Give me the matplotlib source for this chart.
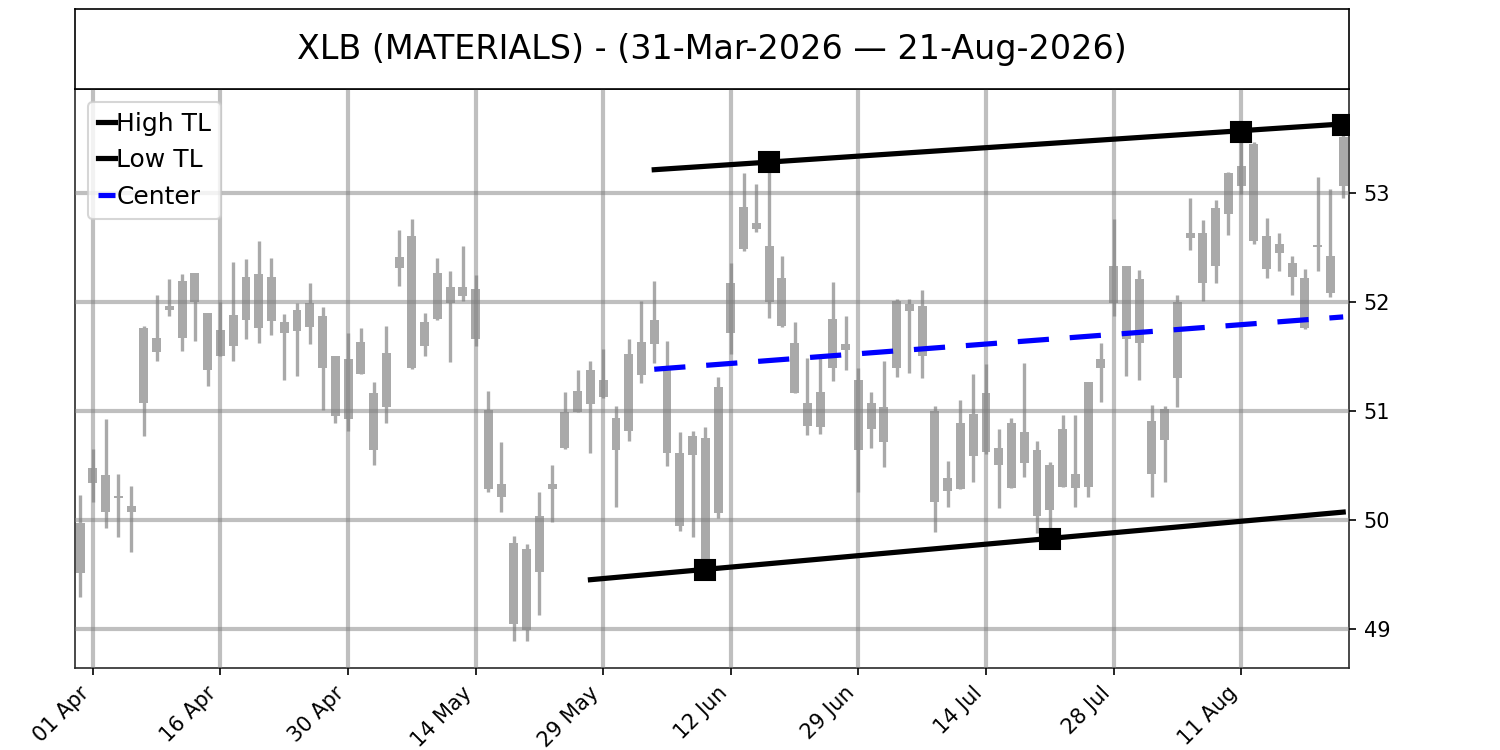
import numpy as np
import pandas as pd
import matplotlib
matplotlib.use("Agg")
import matplotlib.pyplot as plt

# === Data ===
title = "XLB (MATERIALS) - (31-Mar-2026 \u2014 21-Aug-2026)"
holidays = ["2026-04-03", "2026-05-25", "2026-06-19", "2026-07-03"]
dates = pd.bdate_range("2026-03-31", "2026-08-21")
dates = dates[~dates.isin(pd.to_datetime(holidays))]

opens = [49.51, 50.34, 50.41, 50.20, 50.13, 51.07, 51.67, 51.92, 51.67, 52.26,
         51.90, 51.50, 51.59, 51.83, 51.76, 52.23, 51.81, 51.73, 51.77, 51.87,
         51.50, 50.92, 51.34, 51.16, 51.03, 52.31, 52.60, 51.59, 51.84, 52.13,
         52.05, 52.12, 51.01, 50.33, 49.79, 48.99, 49.52, 50.28, 50.66, 50.99,
         51.06, 51.28, 50.93, 50.81, 51.33, 51.61, 51.39, 50.61, 50.59, 50.75,
         50.06, 51.71, 52.48, 52.72, 52.51, 52.22, 51.62, 51.07, 50.85, 51.39,
         51.61, 51.28, 50.83, 51.03, 51.39, 51.98, 51.96, 51.00, 50.26, 50.28,
         50.58, 51.16, 50.66, 50.29, 50.80, 50.64, 50.09, 50.30, 50.42, 50.30,
         51.39, 51.99, 52.33, 51.62, 50.91, 50.73, 51.30, 52.58, 52.17, 52.33,
         52.80, 53.06, 53.45, 52.60, 52.45, 52.35, 52.22, 52.50, 52.08, 53.06]
highs = [50.23, 50.65, 50.92, 50.42, 50.31, 51.78, 52.06, 52.21, 52.25, 52.26,
         51.90, 52.00, 52.36, 52.39, 52.56, 52.40, 51.89, 51.99, 52.17, 51.95,
         51.50, 51.71, 51.76, 51.26, 51.78, 52.66, 52.76, 51.90, 52.40, 52.28,
         52.51, 52.24, 51.18, 50.71, 49.85, 49.78, 50.25, 50.50, 51.17, 51.37,
         51.46, 51.57, 51.04, 51.66, 52.01, 52.19, 51.64, 50.80, 50.81, 50.85,
         51.31, 52.35, 53.18, 53.08, 53.28, 52.42, 51.81, 51.48, 51.51, 52.18,
         51.87, 51.39, 51.17, 51.46, 52.02, 52.02, 52.11, 51.04, 50.54, 51.10,
         51.34, 51.43, 50.83, 50.93, 51.44, 50.72, 50.53, 50.96, 50.96, 51.26,
         51.62, 52.76, 52.33, 52.29, 51.05, 51.04, 52.06, 52.95, 52.75, 52.93,
         53.19, 53.56, 53.46, 52.77, 52.63, 52.42, 52.30, 53.14, 53.03, 53.62]
lows = [49.29, 50.16, 49.92, 49.84, 49.70, 50.77, 51.46, 51.87, 51.55, 51.64,
        51.23, 51.50, 51.46, 51.66, 51.62, 51.69, 51.28, 51.32, 51.61, 51.01,
        50.89, 50.81, 51.34, 50.50, 50.89, 52.14, 51.38, 51.50, 51.83, 51.45,
        52.01, 51.59, 50.25, 50.07, 48.89, 48.89, 49.13, 49.98, 50.65, 50.99,
        50.61, 51.12, 50.12, 50.72, 51.25, 51.44, 50.49, 49.90, 49.84, 49.54,
        50.02, 51.52, 52.46, 52.64, 51.85, 51.77, 51.16, 50.78, 50.79, 51.27,
        51.37, 50.25, 50.66, 50.48, 51.31, 51.35, 51.30, 49.89, 50.12, 50.28,
        50.35, 50.60, 50.11, 50.29, 50.39, 49.88, 49.82, 50.30, 50.12, 50.21,
        51.08, 51.87, 51.32, 51.28, 50.21, 50.35, 51.03, 52.47, 52.01, 52.17,
        52.61, 52.99, 52.53, 52.22, 52.28, 52.06, 51.75, 52.28, 52.04, 52.95]
closes = [49.97, 50.47, 50.07, 50.22, 50.07, 51.76, 51.54, 51.96, 52.19, 52.00,
          51.37, 51.74, 51.88, 52.23, 52.25, 51.82, 51.71, 51.92, 51.99, 51.39,
          50.95, 51.47, 51.63, 50.64, 51.53, 52.41, 51.39, 51.81, 52.26, 51.99,
          52.13, 51.66, 50.28, 50.21, 49.04, 49.73, 50.03, 50.33, 50.99, 51.18,
          51.37, 51.13, 50.64, 51.52, 51.63, 51.83, 50.61, 49.94, 50.77, 49.63,
          51.22, 52.17, 52.87, 52.67, 52.00, 51.78, 51.16, 50.86, 51.17, 51.84,
          51.56, 50.64, 51.07, 50.71, 52.01, 51.91, 51.50, 50.16, 50.38, 50.89,
          50.97, 50.62, 50.50, 50.89, 50.52, 50.03, 50.50, 50.83, 50.29, 51.26,
          51.47, 52.33, 51.66, 52.21, 50.42, 51.02, 52.00, 52.63, 52.63, 52.86,
          53.18, 53.24, 52.56, 52.30, 52.53, 52.23, 51.76, 52.52, 52.42, 53.51]

# trendlines (bar index, price)
high_tl_x = [45, 99]
high_tl_y = [53.21, 53.63]
high_pivots = [54, 91, 99]
low_tl_x = [40, 99]
low_tl_y = [49.45, 50.07]
low_pivots = [49, 76]
center_x = [45, 99]
center_y = [51.38, 51.86]

# === Figure ===
fig = plt.figure(figsize=(10, 5), dpi=150)
ax = fig.add_axes([0.05, 0.1093, 0.8493, 0.772])
tax = fig.add_axes([0.05, 0.8813, 0.8493, 0.1067])

x = np.arange(len(opens))
o = np.array(opens)
c = np.array(closes)
body_lo = np.minimum(o, c)
body_h = np.maximum(np.abs(c - o), 0.015)

# candles: all the same grey
ax.vlines(x, lows, highs, color="darkgray", linewidth=1.6, zorder=1.5)
ax.bar(x, body_h, bottom=body_lo, width=0.7, color="darkgray", zorder=1)

# trendlines
ax.plot(high_tl_x, high_tl_y, color="black", linewidth=2.5, label="High TL", zorder=3)
ax.plot(low_tl_x, low_tl_y, color="black", linewidth=2.5, label="Low TL", zorder=3)
ax.plot(center_x, center_y, color="blue", linewidth=2.5, dashes=(6, 4), label="Center", zorder=3)
ax.plot(high_pivots, [highs[i] for i in high_pivots], "s", color="black", markersize=10, zorder=4)
ax.plot(low_pivots, [lows[i] for i in low_pivots], "s", color="black", markersize=10, zorder=4)

# axes
tick_idx = x[1::10]
ax.set_xticks(tick_idx)
ax.set_xticklabels([dates[i].strftime("%d %b") for i in tick_idx], rotation=45, ha="right")
ax.set_yticks([49, 50, 51, 52, 53])
ax.yaxis.tick_right()
ax.set_xlim(-0.4, 99.45)
ax.set_ylim(48.64, 53.95)
ax.set_axisbelow(False)
ax.grid(True, color="gray", alpha=0.5, linewidth=2)
for sp in ax.spines.values():
    sp.set_color("#2a2a2a")

ax.legend(loc="upper left", fontsize=12, handlelength=0.7, handletextpad=0.05)

# title box
tax.set_xticks([])
tax.set_yticks([])
tax.text(0.5, 0.5, title, ha="center", va="center", fontsize=16, transform=tax.transAxes)

plt.savefig("out.png", dpi=150)
